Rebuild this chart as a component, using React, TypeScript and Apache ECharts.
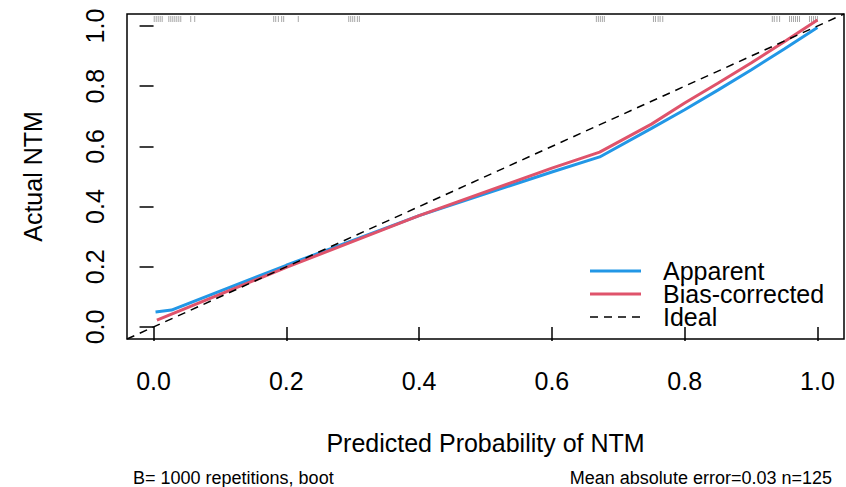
import React, { useEffect, useRef } from "react";
import * as echarts from "echarts";

const tickValues = [0, 0.2, 0.4, 0.6, 0.8, 1.0];

const apparentX = [0.003, 0.027, 0.2, 0.4, 0.6, 0.672, 0.75, 0.8, 0.85, 0.9, 0.95, 1.0];
const apparentY = [0.05, 0.056, 0.205, 0.37, 0.515, 0.565, 0.66, 0.722, 0.787, 0.854, 0.924, 0.995];

const biasX = [0.005, 0.2, 0.4, 0.6, 0.672, 0.75, 0.8, 0.85, 0.9, 0.95, 1.0];
const biasY = [0.023, 0.198, 0.37, 0.528, 0.581, 0.674, 0.744, 0.81, 0.877, 0.948, 1.02];

const idealX = [-0.04, 1.04];
const idealY = [-0.04, 1.04];

const rugValues = [
  0.001, 0.004, 0.007, 0.010, 0.013,
  0.023, 0.026, 0.029, 0.032, 0.035, 0.038, 0.041,
  0.056, 0.062,
  0.181, 0.184, 0.188, 0.193, 0.196,
  0.218,
  0.294, 0.297, 0.300, 0.303, 0.307, 0.310,
  0.667, 0.670, 0.673, 0.676, 0.679,
  0.753, 0.756, 0.760, 0.763, 0.767,
  0.932, 0.935, 0.939, 0.943,
  0.958, 0.961, 0.964, 0.967, 0.970, 0.973,
  0.988, 0.991, 0.994, 0.997, 1.0,
];

const legendNames = ["Apparent", "Bias-corrected", "Ideal"];
const subLeft = "B= 1000 repetitions, boot";
const subRight = "Mean absolute error=0.03 n=125";
const xName = "Predicted Probability of NTM";
const yName = "Actual NTM";

const BLUE = "#2297E6";
const RED = "#DF536B";
const FONT = "'Liberation Sans', Arial, Helvetica, sans-serif";
const FS = 25;

export default function App() {
  const ref = useRef<HTMLDivElement>(null);
  useEffect(() => {
    if (!ref.current) return;
    const chart = echarts.init(ref.current, null, { renderer: "svg" });
    const zip = (xs: number[], ys: number[]) => xs.map((x, i) => [x, ys[i]]);
    const axisCommon = {
      type: "value" as const,
      min: -0.04,
      max: 1.04,
      axisLine: { show: false },
      splitLine: { show: false },
      axisTick: {
        show: true,
        customValues: tickValues,
        length: 14,
        lineStyle: { color: "#000", width: 1.5 },
      },
    };
    chart.setOption({
      animation: false,
      backgroundColor: "#fff",
      textStyle: { fontFamily: FONT },
      grid: {
        left: 127,
        top: 14,
        width: 717,
        height: 325,
        show: true,
        borderColor: "#000",
        borderWidth: 1.5,
        containLabel: false,
      },
      xAxis: {
        ...axisCommon,
        name: xName,
        nameLocation: "middle",
        nameGap: 91,
        nameTextStyle: { fontSize: FS, color: "#000", fontFamily: FONT },
        axisLabel: {
          customValues: tickValues,
          formatter: (v: number) => v.toFixed(1),
          fontSize: FS,
          color: "#000",
          margin: 29,
          fontFamily: FONT,
        },
      },
      yAxis: {
        ...axisCommon,
        name: yName,
        nameLocation: "middle",
        nameGap: 82,
        nameRotate: 90,
        nameTextStyle: { fontSize: FS, color: "#000", fontFamily: FONT },
        axisLabel: {
          customValues: tickValues,
          formatter: (v: number) => v.toFixed(1),
          fontSize: FS,
          color: "#000",
          rotate: 90,
          margin: 20,
          fontFamily: FONT,
        },
      },
      graphic: [
        { type: "line", shape: { x1: 590, y1: 271, x2: 641, y2: 271 }, style: { stroke: BLUE, lineWidth: 3 } },
        { type: "line", shape: { x1: 590, y1: 294, x2: 641, y2: 294 }, style: { stroke: RED, lineWidth: 3 } },
        { type: "line", shape: { x1: 590, y1: 317, x2: 641, y2: 317 }, style: { stroke: "#000", lineWidth: 1.5, lineDash: [8, 6] } },
        ...legendNames.map((t, i) => ({
          type: "text",
          x: 663,
          y: [271, 294, 317][i],
          style: {
            text: t,
            fontSize: FS,
            lineHeight: 22,
            fill: "#000",
            fontFamily: FONT,
            verticalAlign: "middle",
            align: "left",
          },
        })),
        { type: "text", x: 133, y: 478, style: { text: subLeft, fontSize: 18, fill: "#000", fontFamily: FONT, verticalAlign: "middle", align: "left" } },
        { type: "text", x: 832, y: 478, style: { text: subRight, fontSize: 18, fill: "#000", fontFamily: FONT, verticalAlign: "middle", align: "right" } },
      ],
      series: [
        {
          type: "custom",
          name: "rug",
          data: rugValues.map((v) => [v, 1.04]),
          encode: { x: 0, y: 1 },
          silent: true,
          renderItem: (_p: any, api: any) => {
            const pt = api.coord([api.value(0), api.value(1)]);
            return {
              type: "line",
              shape: { x1: pt[0], y1: pt[1] + 2, x2: pt[0], y2: pt[1] + 8 },
              style: { stroke: "rgba(0,0,0,0.35)", lineWidth: 1 },
            };
          },
        },
        {
          type: "line",
          name: legendNames[0],
          data: zip(apparentX, apparentY),
          symbol: "none",
          lineStyle: { color: BLUE, width: 3 },
          itemStyle: { color: BLUE },
        },
        {
          type: "line",
          name: legendNames[1],
          data: zip(biasX, biasY),
          symbol: "none",
          lineStyle: { color: RED, width: 3 },
          itemStyle: { color: RED },
        },
        {
          type: "line",
          name: legendNames[2],
          data: zip(idealX, idealY),
          symbol: "none",
          lineStyle: { color: "#000", width: 1.5, type: [8, 6] },
          itemStyle: { color: "#000" },
        },
      ],
    });
    return () => chart.dispose();
  }, []);
  return (
    <div
      ref={ref}
      style={{ position: "fixed", left: 0, top: 0, width: 846, height: 487, background: "#fff" }}
    />
  );
}
